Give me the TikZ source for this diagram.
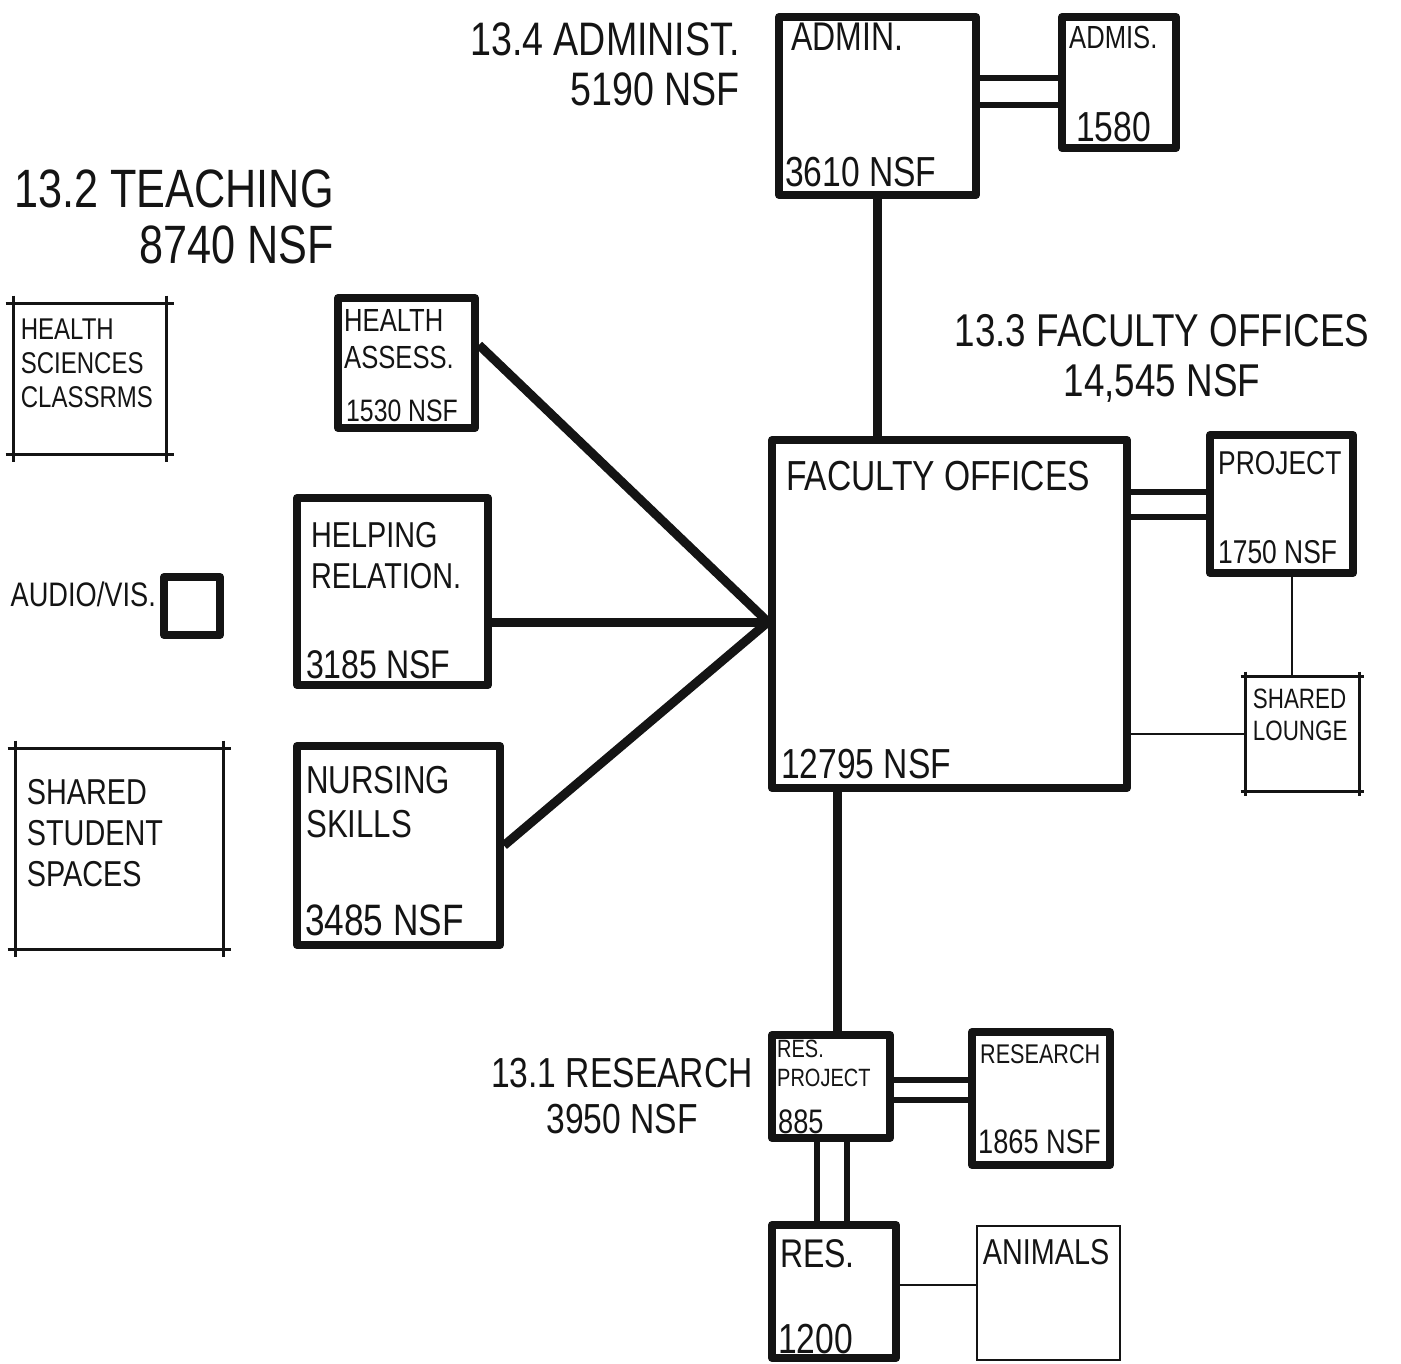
\documentclass[tikz,border=0pt]{standalone}
\usepackage{fontspec}
\setmainfont[FakeStretch=0.8]{Liberation Sans}
\usetikzlibrary{positioning, calc}
\definecolor{inkcol}{HTML}{141414}

% thin frame whose strokes run past the corners
\newcommand{\crossframe}[2]{%
  \draw[thinlink] ([xshift=-#2pt]#1.north west) -- ([xshift=#2pt]#1.north east);
  \draw[thinlink] ([xshift=-#2pt]#1.south west) -- ([xshift=#2pt]#1.south east);
  \draw[thinlink] ([yshift=#2pt]#1.north west) -- ([yshift=-#2pt]#1.south west);
  \draw[thinlink] ([yshift=#2pt]#1.north east) -- ([yshift=-#2pt]#1.south east);
}

\begin{document}
\begin{tikzpicture}[
    x=1pt, y=-1pt,
    room/.style={
        draw=inkcol, line width=8pt, line join=round, inner sep=0pt
    },
    lightroom/.style={
        draw=inkcol, line width=2.6pt, inner sep=0pt
    },
    zone/.style={
        font=\fontsize{46}{52}\selectfont, text=inkcol, inner sep=0pt
    },
    tag/.style={text=inkcol, inner sep=0pt, anchor=north west, align=left},
    num/.style={text=inkcol, inner sep=0pt, anchor=south west},
    fs/.style={font=\fontsize{#1}{#1}\selectfont},
    link/.style={draw=inkcol, line width=9pt},
    twin/.style={draw=inkcol, line width=6pt},
    thinlink/.style={draw=inkcol, line width=2.6pt},
]
\useasboundingbox (0,0) rectangle (1401,1364);

% ── Rooms ──
\node[room, minimum width=197pt, minimum height=178pt] (admin)   at (877.5,106)  {};
\node[room, minimum width=114pt, minimum height=131pt] (admis)   at (1119,82.5)  {};
\node[room, minimum width=355pt, minimum height=348pt] (faculty) at (949.5,614)  {};
\node[room, minimum width=143pt, minimum height=138pt] (project) at (1281.5,504) {};
\node[lightroom, draw=none, minimum width=111pt, minimum height=112pt] (lounge) at (1302.5,734) {};

\node[room, minimum width=137pt, minimum height=130pt] (hassess) at (406.5,363)  {};
\node[room, minimum width=191pt, minimum height=187pt] (helping) at (392.5,591.5) {};
\node[room, minimum width=203pt, minimum height=199pt] (nursing) at (398.5,845.5) {};
\node[lightroom, draw=none, minimum width=150pt, minimum height=148pt] (hsci) at (90,379) {};
\node[room, minimum width=56pt, minimum height=58pt]   (audio)   at (192,606)    {};
\node[lightroom, draw=none, minimum width=205pt, minimum height=198pt] (student) at (119.5,849) {};

\node[room, minimum width=118pt, minimum height=103pt] (resproj)  at (831,1086.5)  {};
\node[room, minimum width=138pt, minimum height=133pt] (research) at (1041,1098.5) {};
\node[room, minimum width=124pt, minimum height=133pt] (res)      at (834,1291.5)  {};
\node[lightroom, minimum width=143pt, minimum height=134pt] (animals) at (1048.5,1293) {};

\crossframe{hsci}{8}
\crossframe{student}{8}
\crossframe{lounge}{5}

% ── Room labels ──
\node[tag, fs=40] (adminT) at ([shift={(16,10)}]admin.north west) {ADMIN.};
\node[num, fs=42] (adminN) at ([shift={(10,-12)}]admin.south west) {3610 NSF};
\node[tag, fs=32] (admisT) at ([shift={(11,13)}]admis.north west) {ADMIS.};
\node[num, fs=42] (admisN) at ([shift={(18,-10)}]admis.south west) {1580};

\node[tag, fs=42] (facultyT) at ([shift={(18,25)}]faculty.north west) {FACULTY OFFICES};
\node[num, fs=42] (facultyN) at ([shift={(13,-13)}]faculty.south west) {12795 NSF};
\node[tag, fs=33] (projectT) at ([shift={(12,20)}]project.north west) {PROJECT};
\node[num, fs=33] (projectN) at ([shift={(12,-13)}]project.south west) {1750 NSF};
\node[tag, font=\fontsize{28}{32}\selectfont] (loungeT) at ([shift={(7,12)}]lounge.north west) {SHARED\\LOUNGE};

\node[tag, font=\fontsize{32}{37}\selectfont] (hassessT) at ([shift={(10,15)}]hassess.north west) {HEALTH\\ASSESS.};
\node[num, fs=31] (hassessN) at ([shift={(12,-10)}]hassess.south west) {1530 NSF};
\node[tag, font=\fontsize{36}{41}\selectfont] (helpingT) at ([shift={(18,28)}]helping.north west) {HELPING\\RELATION.};
\node[num, fs=40] (helpingN) at ([shift={(13,-10)}]helping.south west) {3185 NSF};
\node[tag, font=\fontsize{39}{44}\selectfont] (nursingT) at ([shift={(13,24)}]nursing.north west) {NURSING\\SKILLS};
\node[num, fs=44] (nursingN) at ([shift={(12,-13)}]nursing.south west) {3485 NSF};
\node[tag, font=\fontsize{30}{34}\selectfont] (hsciT) at ([shift={(7,15)}]hsci.north west) {HEALTH\\SCIENCES\\CLASSRMS};
\node[anchor=base east, inner sep=0pt, text=inkcol, fs=34] (audioT) at ([xshift=-4pt]audio.west) {AUDIO/VIS.};
\node[tag, font=\fontsize{36}{41}\selectfont] (studentT) at ([shift={(11,30)}]student.north west) {SHARED\\STUDENT\\SPACES};

\node[tag, font=\fontsize{25}{29}\selectfont] (resprojT) at ([shift={(9,9)}]resproj.north west) {RES.\\PROJECT};
\node[num, fs=34] (resprojN) at ([shift={(10,-8)}]resproj.south west) {885};
\node[tag, fs=27] (researchT) at ([shift={(12,16)}]research.north west) {RESEARCH};
\node[num, fs=34] (researchN) at ([shift={(10,-15)}]research.south west) {1865 NSF};
\node[tag, fs=40] (resT) at ([shift={(12,18)}]res.north west) {RES.};
\node[num, fs=42] (resN) at ([shift={(10,-8)}]res.south west) {1200};
\node[tag, fs=36] (animalsT) at ([shift={(7,14)}]animals.north west) {ANIMALS};

% ── Zone headings ──
\node[zone, font=\fontsize{47}{50}\selectfont, anchor=north east, align=right] (adminZ) at (740,22)
    {13.4 ADMINIST.\\5190 NSF};
\node[zone, font=\fontsize{54}{56}\selectfont, anchor=north east, align=right] (teachZ) at (334,170)
    {13.2 TEACHING\\8740 NSF};
\node[zone, font=\fontsize{46}{50}\selectfont, anchor=north, align=center] (facultyZ) at (1162,314)
    {13.3 FACULTY OFFICES\\14,545 NSF};
\node[zone, font=\fontsize{42}{46}\selectfont, anchor=north, align=center] (researchZ) at (622,1058)
    {13.1 RESEARCH\\3950 NSF};

% ── Links ──
\draw[link] (admin.south) -- (admin.south |- faculty.north);
\foreach \dy in {28,1}
    \draw[twin] ([yshift=\dy pt]admin.east) -- ([yshift=\dy pt]admin.east -| admis.west);
\foreach \dy in {122,97}
    \draw[twin] ([yshift=\dy pt]faculty.east) -- ([yshift=\dy pt]faculty.east -| project.west);
\draw[thinlink] ([xshift=10.5pt]project.south) -- ([xshift=10.5pt]project.south |- lounge.north);
\draw[thinlink] (lounge.west -| faculty.east) -- (lounge.west);

% teaching rooms meet at one point
\coordinate (hub) at ([yshift=-8pt]faculty.west);
\draw[link] ([yshift=18pt]hassess.east) -- (hub);
\draw[link] (helping.east |- hub) -- (hub);
\draw[link] (nursing.east) -- (hub);

% research cluster
\draw[link] ([xshift=6pt]resproj.north) -- ([xshift=6pt]resproj.north |- faculty.south);
\foreach \dy in {6.5,-13.5}
    \draw[twin] ([yshift=\dy pt]resproj.east) -- ([yshift=\dy pt]resproj.east -| research.west);
\foreach \dx in {-14,16}
    \draw[twin] ([xshift=\dx pt]resproj.south) -- ([xshift=\dx pt]resproj.south |- res.north);
\draw[thinlink] ([yshift=6.5pt]res.east) -- ([yshift=6.5pt]res.east -| animals.west);

\end{tikzpicture}
\end{document}
